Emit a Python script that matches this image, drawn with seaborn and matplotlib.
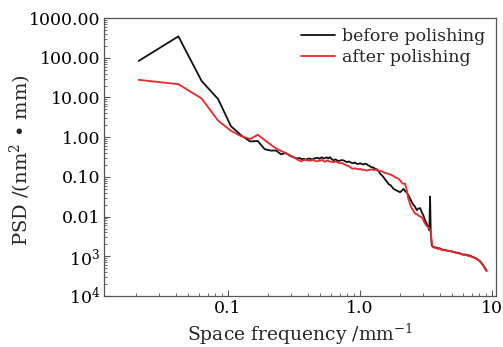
import numpy as np
import pandas as pd
import matplotlib
matplotlib.use("Agg")
import matplotlib.pyplot as plt
import seaborn as sns
from matplotlib.ticker import FixedLocator, LogLocator, NullFormatter

# ---- data ----
freq_before = [0.021, 0.042, 0.063, 0.084, 0.105, 0.126, 0.147, 0.168, 0.189, 0.21,
               0.231, 0.252, 0.273, 0.294, 0.315, 0.326, 0.336, 0.347, 0.36, 0.375,
               0.39, 0.405, 0.42, 0.435, 0.45, 0.465, 0.48, 0.49, 0.5, 0.515,
               0.53, 0.545, 0.56, 0.575, 0.59, 0.61, 0.63, 0.645, 0.66, 0.68,
               0.7, 0.725, 0.75, 0.775, 0.8, 0.82, 0.84, 0.865, 0.89, 0.915,
               0.94, 0.97, 1.0, 1.03, 1.06, 1.09, 1.12, 1.15, 1.18, 1.2,
               1.23, 1.27, 1.3, 1.34, 1.38, 1.42, 1.46, 1.5, 1.55, 1.6,
               1.65, 1.7, 1.75, 1.79, 1.85, 1.9, 1.95, 2.01, 2.07, 2.13,
               2.2, 2.26, 2.3, 2.35, 2.41, 2.47, 2.53, 2.6, 2.69, 2.77,
               2.85, 2.93, 3.02, 3.11, 3.2, 3.29, 3.35, 3.39, 3.43, 3.49,
               3.59, 3.7, 3.8, 3.9, 4.0, 4.14, 4.28, 4.4, 4.5, 4.65,
               4.8, 4.95, 5.1, 5.25, 5.4, 5.55, 5.72, 5.85, 6.0, 6.2,
               6.4, 6.6, 6.81, 7.0, 7.2, 7.4, 7.66, 7.85, 8.0, 8.2,
               8.36, 8.55, 8.7, 8.9, 9.1]
psd_before = [83, 345, 26, 9.1, 1.9, 1.1, 0.78, 0.80, 0.50, 0.46,
              0.46, 0.37, 0.40, 0.34, 0.31, 0.295, 0.29, 0.30, 0.28, 0.285,
              0.27, 0.29, 0.285, 0.275, 0.29, 0.30, 0.30, 0.285, 0.30, 0.31,
              0.29, 0.30, 0.31, 0.29, 0.315, 0.28, 0.26, 0.275, 0.27, 0.25,
              0.255, 0.265, 0.26, 0.245, 0.235, 0.245, 0.235, 0.225, 0.22, 0.23,
              0.215, 0.21, 0.22, 0.21, 0.205, 0.215, 0.21, 0.195, 0.19, 0.18,
              0.175, 0.17, 0.16, 0.15, 0.14, 0.12, 0.11, 0.10, 0.085, 0.075,
              0.065, 0.062, 0.055, 0.05, 0.047, 0.045, 0.043, 0.041, 0.045, 0.05,
              0.043, 0.041, 0.036, 0.032, 0.027, 0.023, 0.02, 0.018, 0.0145, 0.016,
              0.0163, 0.013, 0.0106, 0.008, 0.0066, 0.0054, 0.0045, 0.032, 0.004, 0.0019,
              0.0017, 0.00168, 0.00165, 0.00158, 0.0016, 0.0015, 0.00145, 0.00146, 0.0014, 0.00138,
              0.00135, 0.00133, 0.0013, 0.00126, 0.00122, 0.00123, 0.00118, 0.00114, 0.0011, 0.00111,
              0.00108, 0.00106, 0.00104, 0.00099, 0.00095, 0.00092, 0.00086, 0.00082, 0.00078, 0.00072,
              0.00066, 0.0006, 0.00054, 0.00049, 0.00044]

freq_after = [0.021, 0.042, 0.063, 0.084, 0.105, 0.126, 0.147, 0.168, 0.189, 0.21,
              0.231, 0.252, 0.273, 0.294, 0.315, 0.336, 0.357, 0.378, 0.399, 0.42,
              0.435, 0.45, 0.465, 0.48, 0.5, 0.515, 0.53, 0.545, 0.56, 0.58,
              0.6, 0.63, 0.65, 0.67, 0.7, 0.725, 0.75, 0.775, 0.8, 0.82,
              0.84, 0.865, 0.89, 0.915, 0.94, 0.97, 1.0, 1.03, 1.08, 1.12,
              1.15, 1.18, 1.23, 1.27, 1.3, 1.34, 1.38, 1.42, 1.46, 1.5,
              1.55, 1.6, 1.64, 1.69, 1.74, 1.79, 1.84, 1.9, 1.95, 2.01,
              2.08, 2.13, 2.19, 2.26, 2.32, 2.4, 2.47, 2.53, 2.6, 2.69,
              2.77, 2.85, 2.93, 3.02, 3.11, 3.2, 3.29, 3.35, 3.43, 3.49,
              3.56, 3.7, 3.81, 3.9, 4.0, 4.14, 4.28, 4.4, 4.5, 4.65,
              4.81, 4.95, 5.1, 5.25, 5.4, 5.55, 5.72, 5.85, 6.0, 6.2,
              6.4, 6.6, 6.81, 7.0, 7.2, 7.4, 7.66, 7.85, 8.0, 8.2,
              8.36, 8.55, 8.7, 8.9, 9.1]
psd_after = [27.8, 21.6, 9.4, 2.6, 1.45, 1.05, 0.9, 1.15, 0.85, 0.65,
             0.52, 0.45, 0.40, 0.35, 0.31, 0.27, 0.245, 0.27, 0.26, 0.255,
             0.27, 0.26, 0.245, 0.25, 0.257, 0.27, 0.25, 0.24, 0.26, 0.25,
             0.24, 0.234, 0.245, 0.235, 0.22, 0.225, 0.213, 0.2, 0.19, 0.185,
             0.175, 0.165, 0.159, 0.165, 0.16, 0.155, 0.159, 0.152, 0.15, 0.144,
             0.148, 0.15, 0.155, 0.148, 0.15, 0.159, 0.14, 0.144, 0.138, 0.131,
             0.125, 0.122, 0.119, 0.115, 0.11, 0.105, 0.098, 0.094, 0.09, 0.081,
             0.07, 0.0667, 0.068, 0.045, 0.028, 0.02, 0.016, 0.0142, 0.012, 0.0115,
             0.0106, 0.01, 0.0097, 0.008, 0.0066, 0.0058, 0.0054, 0.005, 0.0041, 0.0022,
             0.0017, 0.00163, 0.0016, 0.00152, 0.00155, 0.00146, 0.00142, 0.00143, 0.0014, 0.00136,
             0.00135, 0.00131, 0.00128, 0.00125, 0.0012, 0.0012, 0.00115, 0.00113, 0.00112, 0.00108,
             0.00106, 0.00102, 0.001, 0.00097, 0.00093, 0.0009, 0.00085, 0.0008, 0.00076, 0.0007,
             0.00064, 0.00058, 0.00053, 0.00047, 0.00042]

series_names = ["before polishing", "after polishing"]
series_colors = ["#111111", "#e8282b"]

y_ticks = [1e3, 1e2, 1e1, 1, 1e-1, 1e-2, 1e-3, 1e-4]
y_tick_labels = ["1000.00", "100.00", "10.00", "1.00", "0.10", "0.01", "10$^3$", "10$^4$"]
x_ticks = [0.1, 1, 10]
x_tick_labels = ["0.1", "1.0", "10"]

df = pd.concat([
    pd.DataFrame({"f": freq_before, "psd": psd_before, "series": series_names[0]}),
    pd.DataFrame({"f": freq_after, "psd": psd_after, "series": series_names[1]}),
], ignore_index=True)

sns.set_theme(style="ticks")
plt.rcParams["font.family"] = ["DejaVu Serif"]
plt.rcParams["mathtext.fontset"] = "dejavuserif"

fig = plt.figure(figsize=(5.03, 3.47), dpi=100)
ax = fig.add_axes([0.207, 0.147, 0.779, 0.801])

sns.lineplot(data=df, x="f", y="psd", hue="series", hue_order=series_names,
             palette=series_colors, estimator=None, sort=False, lw=1.3, ax=ax)

ax.set_xscale("log")
ax.set_yscale("log")
ax.set_xlim(0.0115, 10.7)
ax.set_ylim(1e-4, 1e3)

ax.yaxis.set_major_locator(FixedLocator(y_ticks))
ax.set_yticklabels(y_tick_labels)
ax.yaxis.set_minor_locator(LogLocator(base=10, subs=np.arange(2, 10)))
ax.yaxis.set_minor_formatter(NullFormatter())
ax.xaxis.set_major_locator(FixedLocator(x_ticks))
ax.set_xticklabels(x_tick_labels)
ax.xaxis.set_minor_locator(LogLocator(base=10, subs=np.arange(2, 10)))
ax.xaxis.set_minor_formatter(NullFormatter())

ax.tick_params(which="both", direction="in", color="#555555", labelsize=12.5,
               labelcolor="black", top=False, right=False)
ax.tick_params(which="major", length=4, width=0.8, pad=3)
ax.tick_params(which="minor", length=2.5, width=0.6)
for s in ax.spines.values():
    s.set_color("#555555")
    s.set_linewidth(0.9)

ax.set_xlabel("Space frequency /mm$^{-1}$", fontsize=13.5, labelpad=3)
ax.set_ylabel("PSD /(nm$^{2}$ • mm)", fontsize=14)
ax.yaxis.set_label_coords(-0.18, 0.49)

leg = ax.legend(loc="upper right", frameon=False, fontsize=12.5, handlelength=2.0,
                handletextpad=0.4, borderaxespad=0.2, labelspacing=0.2)

fig.savefig("out.png", dpi=100)
